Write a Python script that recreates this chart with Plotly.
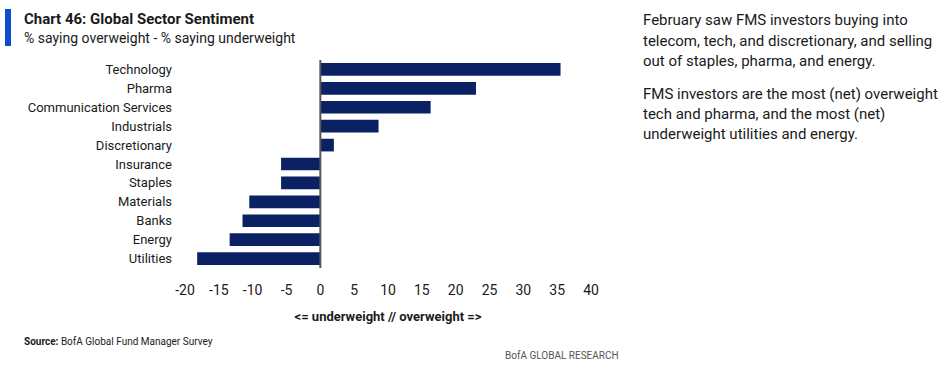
import plotly.graph_objects as go

categories = ["Technology", "Pharma", "Communication Services", "Industrials", "Discretionary",
              "Insurance", "Staples", "Materials", "Banks", "Energy", "Utilities"]
values = [35.5, 23.0, 16.3, 8.6, 2.0, -5.8, -5.8, -10.5, -11.5, -13.4, -18.2]
x_ticks = [-20, -15, -10, -5, 0, 5, 10, 15, 20, 25, 30, 35, 40]

FONT = "Roboto, Liberation Sans, sans-serif"
TXT = "#1a1a1a"

# body margin removed via post_script; plot area at x 185..591, y 60..268
OFF = 0
PL, PT, PW, PH = 185, 60, 406, 208
W, H = 950 - 2 * OFF, 373 - 2 * OFF

fig = go.Figure()
fig.add_trace(go.Bar(
    x=values, y=categories, orientation="h",
    marker=dict(color="#0a2163", line=dict(width=0)),
    hoverinfo="x+y",
))

fig.update_layout(
    width=W, height=H,
    margin=dict(l=PL - OFF, r=W - (PL - OFF) - PW, t=PT - OFF, b=H - (PT - OFF) - PH),
    paper_bgcolor="white", plot_bgcolor="white",
    showlegend=False,
    bargap=0.33,
    font=dict(family=FONT, size=13, color=TXT),
    xaxis=dict(range=[-20, 40], tickvals=x_ticks, ticktext=[str(t) for t in x_ticks],
               showgrid=False, zeroline=False, showline=False, ticks="",
               tickfont=dict(size=14, family=FONT, color=TXT), ticklabelstandoff=12,
               title=dict(text="<b><= underweight // overweight =></b>",
                          font=dict(size=13, family=FONT, color=TXT), standoff=14)),
    yaxis=dict(categoryorder="array", categoryarray=categories[::-1],
               showgrid=False, zeroline=False, showline=False, ticks="",
               tickfont=dict(size=13, family=FONT, color=TXT), ticklabelstandoff=12),
    shapes=[
        dict(type="line", xref="x", yref="paper", x0=0, x1=0, y0=0, y1=1,
             line=dict(color="#555555", width=2)),
        dict(type="rect", xref="paper", yref="paper", xsizemode="pixel", ysizemode="pixel",
             xanchor=0, yanchor=1, x0=-180, x1=-174, y0=14, y1=51,
             fillcolor="#0a4fcf", line=dict(width=0)),
    ],
)


def px(x):
    return (x - PL) / PW


def py(y):
    return 1 - (y - PT) / PH


ann = [
    dict(text="<b>Chart 46: Global Sector Sentiment</b>", x=22, y=19, size=15),
    dict(text="% saying overweight - % saying underweight", x=22, y=38, size=14),
    dict(text="<b>Source:</b> BofA Global Fund Manager Survey", x=22, y=341, size=10),
]
for a in ann:
    fig.add_annotation(text=a["text"], xref="paper", yref="paper", showarrow=False,
                       x=px(a["x"]), y=py(a["y"]),
                       xanchor="left", yanchor="middle",
                       font=dict(size=a["size"], family=FONT, color=TXT))
fig.add_annotation(text="BofA GLOBAL RESEARCH", xref="paper", yref="paper", showarrow=False,
                   x=px(621), y=py(355), xanchor="right", yanchor="middle",
                   font=dict(size=10, family=FONT, color="#555555"))

right_lines = [
    ("February saw FMS investors buying into", 20),
    ("telecom, tech, and discretionary, and selling", 41),
    ("out of staples, pharma, and energy.", 61),
    ("FMS investors are the most (net) overweight", 94),
    ("tech and pharma, and the most (net)", 114),
    ("underweight utilities and energy.", 134),
]
for t, yy in right_lines:
    fig.add_annotation(text=t, xref="paper", yref="paper", showarrow=False,
                       x=px(641), y=py(yy),
                       xanchor="left", yanchor="middle",
                       font=dict(size=15, family=FONT, color=TXT))

fig.write_html("out.html", config={"displayModeBar": False},
               post_script="document.body.style.margin='0';document.body.style.overflow='hidden';")
